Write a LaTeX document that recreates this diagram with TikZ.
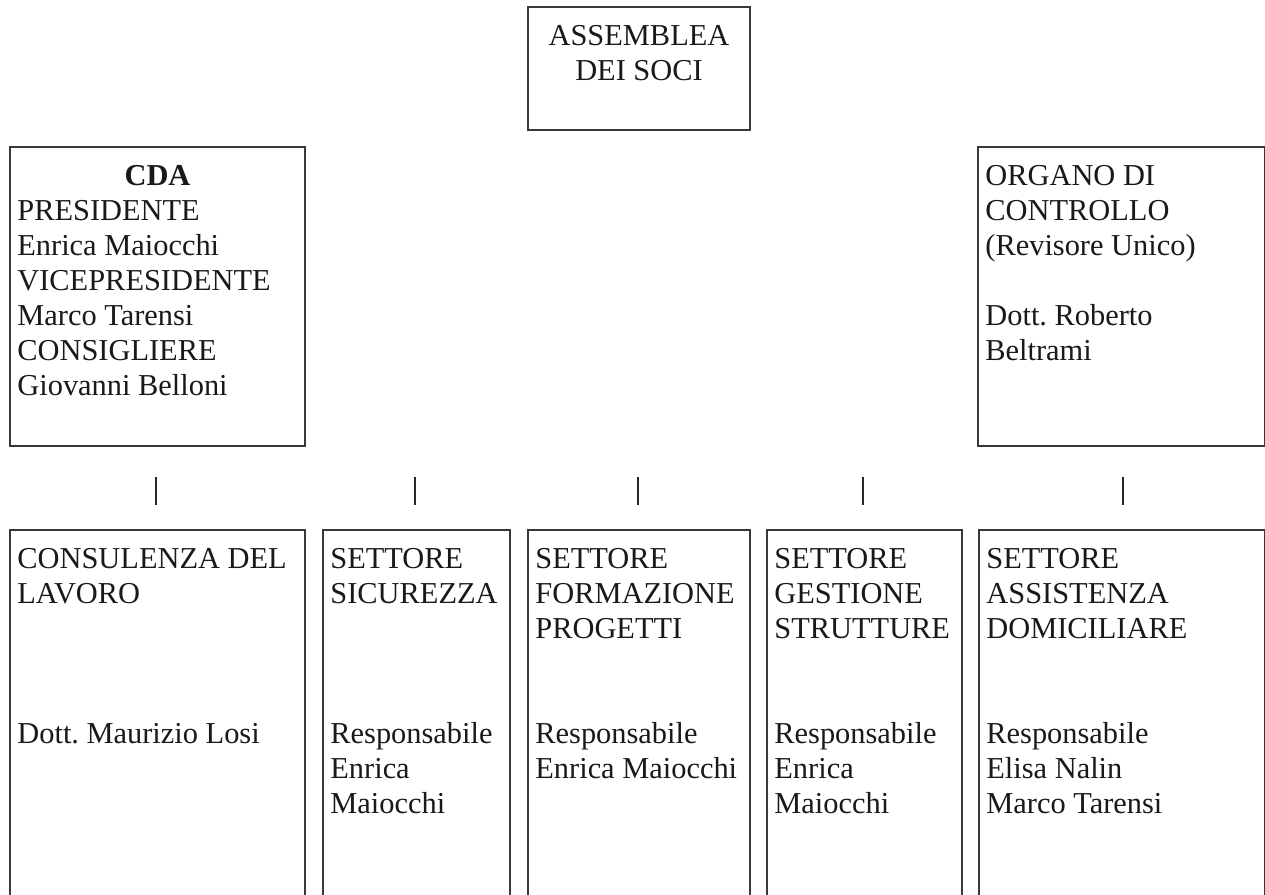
\documentclass[tikz,border=0pt]{standalone}
\usepackage{fontspec}
\setmainfont{Liberation Serif}
\frenchspacing
\begin{document}
\begin{tikzpicture}[x=0.5pt,y=-0.5pt,
  boxstyle/.style={draw=black!78, line width=1pt, rectangle, inner sep=0pt, anchor=north west},
  txt/.style={anchor=north west, inner sep=0pt, align=left, text=black!90,
    font=\fontsize{15.2pt}{17.5pt}\selectfont\frenchspacing},
  ctxt/.style={txt, anchor=north, align=center},
  tick/.style={draw=black!85, line width=0.75pt}]
\useasboundingbox (0,0) rectangle (1265,895);
% boxes
\node[boxstyle, minimum width=111pt, minimum height=61.5pt] (asm) at (527,6) {};
\node[boxstyle, minimum width=147.5pt, minimum height=149.5pt] (cda) at (9,146) {};
\node[boxstyle, minimum width=143.5pt, minimum height=149.5pt] (org) at (977,146) {};
\node[boxstyle, minimum width=147.5pt, minimum height=183pt] (b1) at (9,529) {};
\node[boxstyle, minimum width=93.5pt, minimum height=183pt] (b2) at (322,529) {};
\node[boxstyle, minimum width=111pt, minimum height=183pt] (b3) at (527,529) {};
\node[boxstyle, minimum width=97.5pt, minimum height=183pt] (b4) at (766,529) {};
\node[boxstyle, minimum width=143pt, minimum height=183pt] (b5) at (978,529) {};
% texts
\node[ctxt, yshift=-7.25pt] (asmt) at (asm.north) {\strut ASSEMBLEA\\DEI SOCI};
\node[ctxt, yshift=-7.25pt] (cdah) at (cda.north) {\strut\textbf{CDA}};
\node[txt, xshift=4pt, yshift=-24.75pt] (cdat) at (cda.north west)
  {\strut PRESIDENTE\\Enrica Maiocchi\\VICEPRESIDENTE\\Marco Tarensi\\CONSIGLIERE\\Giovanni Belloni};
\node[txt, xshift=4pt, yshift=-7.25pt] (orgh) at (org.north west)
  {\strut ORGANO DI\\CONTROLLO\\(Revisore Unico)};
\node[txt, xshift=4pt, yshift=-77.25pt] (orgn) at (org.north west)
  {\strut Dott. Roberto\\Beltrami};
\node[txt, xshift=4pt, yshift=-7.25pt] (b1h) at (b1.north west) {\strut CONSULENZA DEL\\LAVORO};
\node[txt, xshift=4pt, yshift=-94.75pt] (b1n) at (b1.north west) {\strut Dott. Maurizio Losi};
\node[txt, xshift=4pt, yshift=-7.25pt] (b2h) at (b2.north west) {\strut SETTORE\\SICUREZZA};
\node[txt, xshift=4pt, yshift=-94.75pt] (b2n) at (b2.north west) {\strut Responsabile\\Enrica\\Maiocchi};
\node[txt, xshift=4pt, yshift=-7.25pt] (b3h) at (b3.north west) {\strut SETTORE\\FORMAZIONE\\PROGETTI};
\node[txt, xshift=4pt, yshift=-94.75pt] (b3n) at (b3.north west) {\strut Responsabile\\Enrica Maiocchi};
\node[txt, xshift=4pt, yshift=-7.25pt] (b4h) at (b4.north west) {\strut SETTORE\\GESTIONE\\STRUTTURE};
\node[txt, xshift=4pt, yshift=-94.75pt] (b4n) at (b4.north west) {\strut Responsabile\\Enrica\\Maiocchi};
\node[txt, xshift=4pt, yshift=-7.25pt] (b5h) at (b5.north west) {\strut SETTORE\\ASSISTENZA\\DOMICILIARE};
\node[txt, xshift=4pt, yshift=-94.75pt] (b5n) at (b5.north west) {\strut Responsabile\\Elisa Nalin\\Marco Tarensi};
% ticks
\foreach \i/\x in {1/156,2/415,3/638,4/863,5/1123}{
  \coordinate (t\i a) at (\x,477);
  \coordinate (t\i b) at (\x,505);
  \draw[tick] (t\i a) -- (t\i b);
}
\end{tikzpicture}
\end{document}
